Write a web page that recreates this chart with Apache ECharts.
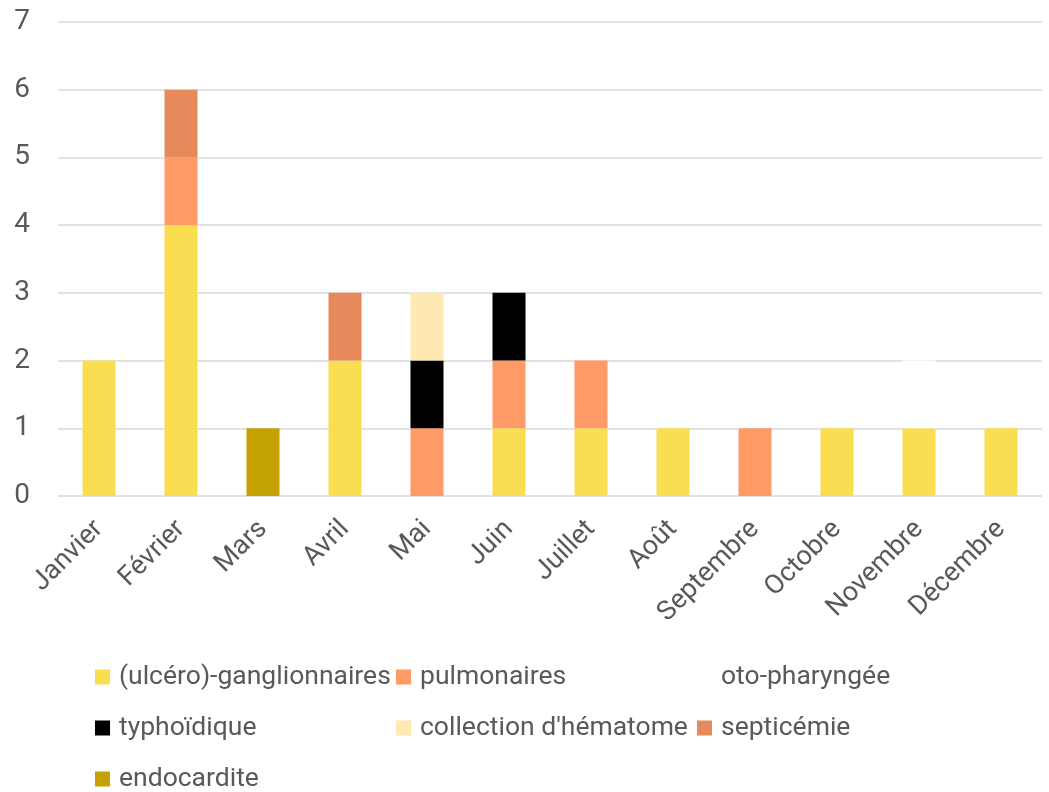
<!DOCTYPE html>
<html><head><meta charset="utf-8">
<script src="https://cdn.jsdelivr.net/npm/echarts@6/dist/echarts.min.js"></script>
<style>html,body{margin:0;padding:0;background:#fff}#c{width:1049px;height:792px}</style>
</head><body><div id="c"></div>
<script>
const months = ['Janvier','Février','Mars','Avril','Mai','Juin','Juillet','Août','Septembre','Octobre','Novembre','Décembre'];
const ganglionnaires = [2,4,0,2,0,1,1,1,0,1,1,1];
const pulmonaires    = [0,1,0,0,1,1,1,0,1,0,0,0];
const otoPharyngee   = [0,0,0,0,0,0,0,0,0,0,1,0];
const typhoidique    = [0,0,0,0,1,1,0,0,0,0,0,0];
const collection     = [0,0,0,0,1,0,0,0,0,0,0,0];
const septicemie     = [0,1,0,1,0,0,0,0,0,0,0,0];
const endocardite    = [0,0,1,0,0,0,0,0,0,0,0,0];
const yTicks = [0,1,2,3,4,5,6,7];

const seriesDefs = [
  {name:'(ulcéro)-ganglionnaires', data:ganglionnaires, color:'#F9DE52'},
  {name:'pulmonaires', data:pulmonaires, color:'#FE9A66'},
  {name:'oto-pharyngée', data:otoPharyngee, color:'#FFFFFF'},
  {name:'typhoïdique', data:typhoidique, color:'#000000'},
  {name:"collection d'hématome", data:collection, color:'#FEE9B2'},
  {name:'septicémie', data:septicemie, color:'#E78A5B'},
  {name:'endocardite', data:endocardite, color:'#C4A202'}
];
const legendPos = [[95,662],[396,662],[697,662],[95,713],[396,713],[697,713],[95,764]];
const FONT = 'Roboto, "Liberation Sans", Arial, sans-serif';
const txt = {color:'#595959', fontFamily:FONT};

const chart = echarts.init(document.getElementById('c'), null, {renderer:'canvas'});
chart.setOption({
  animation:false,
  grid:{left:58, right:7, top:22, bottom:296, containLabel:false},
  xAxis:{type:'category', data:months,
    axisLine:{show:false}, axisTick:{show:false},
    axisLabel:{rotate:45, margin:29, ...txt, fontSize:27}},
  yAxis:{type:'value', min:0, max:7, interval:1,
    axisLine:{show:false}, axisTick:{show:false},
    axisLabel:{margin:28, ...txt, fontSize:28, formatter:v=>yTicks.includes(v)?String(v):''},
    splitLine:{lineStyle:{color:'#D9D9D9', width:1.5}}},
  legend: seriesDefs.map((s,i)=>({
    data:[{name:s.name, icon:'rect'}], left:legendPos[i][0], top:legendPos[i][1], padding:0,
    itemWidth:15, itemHeight:15, itemGap:0,
    textStyle:{...txt, fontSize:26.5, lineHeight:30, padding:[0,0,0,4]},
    selectedMode:false
  })),
  series: seriesDefs.map(s=>({
    type:'bar', name:s.name, stack:'total', data:s.data, barWidth:33,
    itemStyle:{color:s.color}, emphasis:{disabled:true}
  }))
});
</script></body></html>
